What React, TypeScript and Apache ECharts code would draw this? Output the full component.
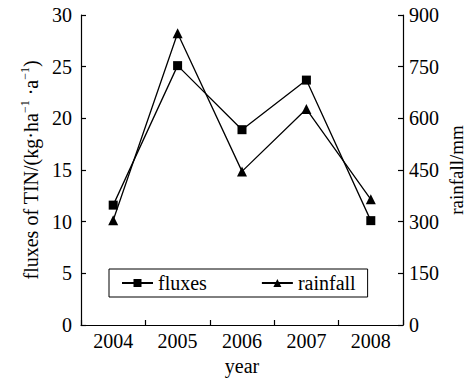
import React, { useEffect, useRef } from "react";
import * as echarts from "echarts";

const years = ["2004", "2005", "2006", "2007", "2008"];
const fluxes = [11.6, 25.1, 18.9, 23.7, 10.1];
const rainfall = [304, 847, 446, 627, 365];
const leftTicks = [0, 5, 10, 15, 20, 25, 30];
const rightTicks = [0, 150, 300, 450, 600, 750, 900];

const FONT = "'Liberation Serif', 'Times New Roman', serif";

export default function App() {
  const ref = useRef<HTMLDivElement>(null);
  useEffect(() => {
    if (!ref.current) return;
    const chart = echarts.init(ref.current, undefined, { renderer: "svg" });
    const axisCommon = {
      axisLine: { show: true, lineStyle: { color: "#000", width: 1.2 } },
      axisTick: { show: true, inside: true, length: 5, lineStyle: { color: "#000", width: 1.2 } },
      splitLine: { show: false },
      axisLabel: { color: "#000", fontFamily: FONT, fontSize: 20 },
    };
    chart.setOption({
      animation: false,
      backgroundColor: "#fff",
      grid: { left: 81, right: 63, top: 15, bottom: 53, outerBoundsMode: "none", containLabel: false },
      legend: {
        left: 109,
        top: 269,
        padding: [4, 12, 4, 12],
        borderColor: "#000",
        borderWidth: 1,
        itemGap: 54,
        itemWidth: 31,
        itemHeight: 10,
        textStyle: { color: "#000", fontFamily: FONT, fontSize: 20 },
        data: ["fluxes", "rainfall"],
      },
      xAxis: {
        type: "category",
        data: years,
        boundaryGap: true,
        name: "year",
        nameLocation: "middle",
        nameGap: 27,
        nameTextStyle: { color: "#000", fontFamily: FONT, fontSize: 20 },
        ...axisCommon,
        axisLabel: { ...axisCommon.axisLabel, margin: 6 },
      },
      yAxis: [
        {
          type: "value",
          min: leftTicks[0],
          max: leftTicks[leftTicks.length - 1],
          interval: 5,
          ...axisCommon,
          axisLabel: { ...axisCommon.axisLabel, margin: 9 },
          name: "{a|fluxes of TIN/(kg·ha}{s|−1}{a| ·a}{s|−1}{a|)}",
          nameLocation: "middle",
          nameRotate: 90,
          nameGap: 38,
          nameTextStyle: {
            rich: {
              a: { color: "#000", fontFamily: FONT, fontSize: 20, lineHeight: 22, verticalAlign: "bottom" },
              s: { color: "#000", fontFamily: FONT, fontSize: 12, lineHeight: 22, verticalAlign: "top" },
            },
          },
        },
        {
          type: "value",
          min: rightTicks[0],
          max: rightTicks[rightTicks.length - 1],
          interval: 150,
          position: "right",
          ...axisCommon,
          axisLabel: { ...axisCommon.axisLabel, margin: 6 },
          name: "rainfall/mm",
          nameLocation: "middle",
          nameRotate: 90,
          nameGap: 44,
          nameMoveOverlap: false,
          nameTextStyle: { color: "#000", fontFamily: FONT, fontSize: 19, lineHeight: 19 },
        },
      ],
      series: [
        {
          name: "fluxes",
          type: "line",
          yAxisIndex: 0,
          data: fluxes,
          symbol: "rect",
          symbolSize: 9,
          itemStyle: { color: "#000" },
          lineStyle: { color: "#000", width: 1.3 },
        },
        {
          name: "rainfall",
          type: "line",
          yAxisIndex: 1,
          data: rainfall,
          symbol: "triangle",
          symbolSize: 10,
          itemStyle: { color: "#000" },
          lineStyle: { color: "#000", width: 1.3 },
        },
      ],
    });
    return () => chart.dispose();
  }, []);
  return <div ref={ref} style={{ width: 466, height: 378, position: "absolute", left: 0, top: 0 }} />;
}
